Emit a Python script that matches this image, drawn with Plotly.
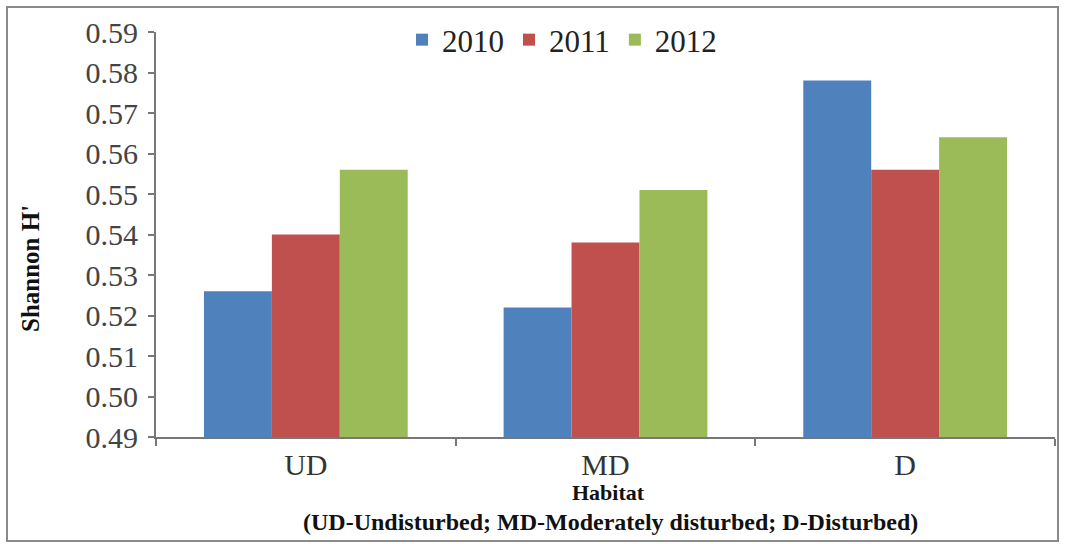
import plotly.graph_objects as go

# Shannon diversity index (H') by habitat and year
habitats = ["UD", "MD", "D"]
years = ["2010", "2011", "2012"]
h_2010 = [0.526, 0.522, 0.578]
h_2011 = [0.540, 0.538, 0.556]
h_2012 = [0.556, 0.551, 0.564]
y_ticks = [0.49, 0.50, 0.51, 0.52, 0.53, 0.54, 0.55, 0.56, 0.57, 0.58, 0.59]

series = [h_2010, h_2011, h_2012]
colors = ["#4F81BD", "#C0504D", "#9BBB59"]

fig = go.Figure()
for name, vals, col in zip(years, series, colors):
    fig.add_trace(go.Bar(x=habitats, y=vals, name=name, marker_color=col,
                         marker_line_width=0))

serif = "Liberation Serif"
L, R, T, B = 156, 12, 32, 107
W, H = 1067, 544
pw, ph = W - L - R, H - T - B

def px_x(x):
    return (x - L) / pw

def px_y(y):
    return (H - B - y) / ph

fig.update_layout(
    width=W, height=H,
    margin=dict(l=L, r=R, t=T, b=B, pad=0),
    paper_bgcolor="white", plot_bgcolor="white",
    barmode="group", bargap=0.32, bargroupgap=0,
    font=dict(family=serif, color="#333333"),
    showlegend=True,
    legend=dict(orientation="h", x=px_x(562), y=px_y(40), xanchor="center",
                yanchor="middle", font=dict(size=31, family=serif, color="#222"),
                bgcolor="rgba(0,0,0,0)", itemwidth=30, tracegroupgap=0),
    xaxis=dict(showline=True, linecolor="#777777", linewidth=2,
               ticks="outside", tickson="boundaries", ticklen=7,
               tickcolor="#777777", tickwidth=2,
               tickfont=dict(size=30, family=serif, color="#333"),
               showgrid=False, zeroline=False),
    yaxis=dict(range=[0.49, 0.59], tickvals=y_ticks, tickformat=".2f",
               showline=True, linecolor="#777777", linewidth=2,
               ticks="outside", ticklen=6, tickcolor="#777777", tickwidth=2,
               ticklabelstandoff=4,
               tickfont=dict(size=30, family=serif, color="#444"),
               showgrid=False, zeroline=False),
    annotations=[
        dict(text="<b>Shannon H'</b>", textangle=-90, xref="paper", yref="paper",
             x=px_x(30), y=px_y(268), xanchor="center", yanchor="middle",
             showarrow=False, font=dict(size=25, family=serif, color="#111")),
        dict(text="<b>Habitat</b>", xref="paper", yref="paper",
             x=px_x(608), y=px_y(493), xanchor="center", yanchor="middle",
             showarrow=False, font=dict(size=22, family=serif, color="#111")),
        dict(text="<b>(UD-Undisturbed; MD-Moderately disturbed; D-Disturbed)</b>",
             xref="paper", yref="paper",
             x=px_x(610), y=px_y(522), xanchor="center", yanchor="middle",
             showarrow=False, font=dict(size=24, family=serif, color="#111")),
    ],
    shapes=[
        dict(type="rect", xref="paper", yref="paper",
             x0=px_x(7), x1=px_x(1058), y0=px_y(541), y1=px_y(7),
             line=dict(color="#8a8a8a", width=2), layer="below"),
    ],
)

fig.write_html("out.html")
